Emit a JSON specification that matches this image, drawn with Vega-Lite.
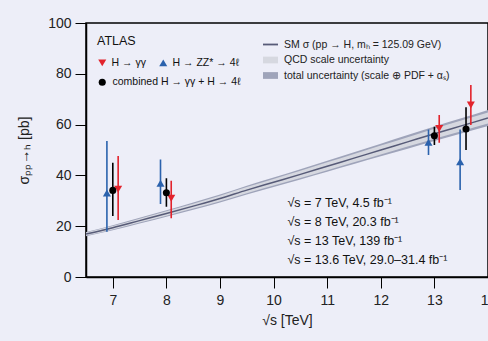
{
  "$schema": "https://vega.github.io/schema/vega-lite/v6.json",
  "autosize": "none",
  "padding": {"left": 86, "top": 23, "right": 0, "bottom": 64},
  "width": 402,
  "height": 254,
  "background": "#edeef8",
  "config": {
    "font": "Liberation Sans",
    "view": {"stroke": "#000000", "strokeWidth": 1.5, "fill": "#edeef8"}
  },
  "datasets": {
    "theory": [
      {"sqrts": 6.5, "sigma": 16.9, "sc_lo": 16.31, "sc_hi": 17.49, "tot_lo": 16.06, "tot_hi": 17.75},
      {"sqrts": 7.0, "sigma": 19.4, "sc_lo": 18.72, "sc_hi": 20.08, "tot_lo": 18.43, "tot_hi": 20.37},
      {"sqrts": 7.5, "sigma": 22.2, "sc_lo": 21.42, "sc_hi": 22.98, "tot_lo": 21.09, "tot_hi": 23.31},
      {"sqrts": 8.0, "sigma": 25.0, "sc_lo": 24.13, "sc_hi": 25.88, "tot_lo": 23.75, "tot_hi": 26.25},
      {"sqrts": 8.5, "sigma": 27.9, "sc_lo": 26.92, "sc_hi": 28.88, "tot_lo": 26.51, "tot_hi": 29.30},
      {"sqrts": 9.0, "sigma": 30.9, "sc_lo": 29.82, "sc_hi": 31.98, "tot_lo": 29.36, "tot_hi": 32.45},
      {"sqrts": 9.5, "sigma": 34.2, "sc_lo": 33.00, "sc_hi": 35.40, "tot_lo": 32.49, "tot_hi": 35.91},
      {"sqrts": 10.0, "sigma": 37.3, "sc_lo": 35.99, "sc_hi": 38.61, "tot_lo": 35.44, "tot_hi": 39.17},
      {"sqrts": 10.5, "sigma": 40.4, "sc_lo": 38.99, "sc_hi": 41.81, "tot_lo": 38.38, "tot_hi": 42.42},
      {"sqrts": 11.0, "sigma": 43.6, "sc_lo": 42.07, "sc_hi": 45.13, "tot_lo": 41.42, "tot_hi": 45.78},
      {"sqrts": 11.5, "sigma": 46.8, "sc_lo": 45.16, "sc_hi": 48.44, "tot_lo": 44.46, "tot_hi": 49.14},
      {"sqrts": 12.0, "sigma": 50.0, "sc_lo": 48.25, "sc_hi": 51.75, "tot_lo": 47.50, "tot_hi": 52.50},
      {"sqrts": 12.5, "sigma": 53.2, "sc_lo": 51.34, "sc_hi": 55.06, "tot_lo": 50.54, "tot_hi": 55.86},
      {"sqrts": 13.0, "sigma": 56.4, "sc_lo": 54.43, "sc_hi": 58.37, "tot_lo": 53.58, "tot_hi": 59.22},
      {"sqrts": 13.5, "sigma": 59.5, "sc_lo": 57.42, "sc_hi": 61.58, "tot_lo": 56.53, "tot_hi": 62.48},
      {"sqrts": 14.0, "sigma": 62.6, "sc_lo": 60.41, "sc_hi": 64.79, "tot_lo": 59.47, "tot_hi": 65.73}
    ],
    "meas": [
      {"sqrts": 6.89, "run": "√s = 7 TeV, 4.5 fb⁻¹", "channel": "H → ZZ* → 4ℓ", "sigma": 33.1, "lo": 17.8, "hi": 53.5},
      {"sqrts": 7.0, "run": "√s = 7 TeV, 4.5 fb⁻¹", "channel": "combined H → γγ + H → 4ℓ", "sigma": 34.1, "lo": 24.0, "hi": 45.0},
      {"sqrts": 7.1, "run": "√s = 7 TeV, 4.5 fb⁻¹", "channel": "H → γγ", "sigma": 34.6, "lo": 22.4, "hi": 47.6},
      {"sqrts": 7.89, "run": "√s = 8 TeV, 20.3 fb⁻¹", "channel": "H → ZZ* → 4ℓ", "sigma": 36.9, "lo": 28.7, "hi": 46.3},
      {"sqrts": 8.0, "run": "√s = 8 TeV, 20.3 fb⁻¹", "channel": "combined H → γγ + H → 4ℓ", "sigma": 33.2, "lo": 27.7, "hi": 38.9},
      {"sqrts": 8.09, "run": "√s = 8 TeV, 20.3 fb⁻¹", "channel": "H → γγ", "sigma": 31.0, "lo": 23.1, "hi": 37.9},
      {"sqrts": 12.89, "run": "√s = 13 TeV, 139 fb⁻¹", "channel": "H → ZZ* → 4ℓ", "sigma": 53.0, "lo": 48.0, "hi": 58.1},
      {"sqrts": 13.0, "run": "√s = 13 TeV, 139 fb⁻¹", "channel": "combined H → γγ + H → 4ℓ", "sigma": 55.6, "lo": 52.0, "hi": 59.2},
      {"sqrts": 13.09, "run": "√s = 13 TeV, 139 fb⁻¹", "channel": "H → γγ", "sigma": 58.5, "lo": 52.9, "hi": 63.8},
      {"sqrts": 13.48, "run": "√s = 13.6 TeV, 29.0–31.4 fb⁻¹", "channel": "H → ZZ* → 4ℓ", "sigma": 45.4, "lo": 34.3, "hi": 58.1},
      {"sqrts": 13.59, "run": "√s = 13.6 TeV, 29.0–31.4 fb⁻¹", "channel": "combined H → γγ + H → 4ℓ", "sigma": 58.3, "lo": 50.0, "hi": 66.8},
      {"sqrts": 13.68, "run": "√s = 13.6 TeV, 29.0–31.4 fb⁻¹", "channel": "H → γγ", "sigma": 67.7, "lo": 59.8, "hi": 75.6}
    ]
  },
  "encoding": {
    "x": {
      "field": "sqrts", "type": "quantitative",
      "scale": {"domain": [6.5, 14], "nice": false, "zero": false},
      "axis": {
        "title": "√s [TeV]", "values": [7, 8, 9, 10, 11, 12, 13, 14],
        "grid": false, "tickSize": 11, "tickColor": "#000000", "domainColor": "#000000", "domainWidth": 1.5,
        "labelFontSize": 14, "labelColor": "#222222", "labelPadding": 5, "labelFlush": false, "labelOverlap": false,
        "titleFontSize": 14, "titleFontWeight": "normal", "titleColor": "#222222", "titlePadding": 6
      }
    }
  },
  "layer": [
    {
      "data": {"name": "theory"},
      "mark": {"type": "area", "interpolate": "monotone", "opacity": 1},
      "encoding": {
        "y": {"field": "tot_lo", "type": "quantitative"},
        "y2": {"field": "tot_hi"},
        "color": {"datum": "total uncertainty (scale ⊕ PDF + αₛ)"}
      }
    },
    {
      "data": {"name": "theory"},
      "mark": {"type": "area", "interpolate": "monotone", "opacity": 1},
      "encoding": {
        "y": {"field": "sc_lo", "type": "quantitative"},
        "y2": {"field": "sc_hi"},
        "color": {"datum": "QCD scale uncertainty"}
      }
    },
    {
      "data": {"name": "theory"},
      "mark": {"type": "line", "interpolate": "monotone", "strokeWidth": 1.5},
      "encoding": {
        "y": {
          "field": "sigma", "type": "quantitative",
          "scale": {"domain": [0, 100], "nice": false},
          "axis": {
            "title": "σₚₚ→ₕ [pb]", "values": [0, 20, 40, 60, 80, 100],
            "grid": false, "tickSize": 11, "tickColor": "#000000", "domainColor": "#000000", "domainWidth": 1.5,
            "labelFontSize": 14, "labelColor": "#222222", "labelPadding": 4, "labelFlush": false,
            "titleFontSize": 14, "titleFontWeight": "normal", "titleColor": "#222222", "titlePadding": 16
          }
        },
        "color": {
          "datum": "SM σ (pp → H, mₕ = 125.09 GeV)",
          "scale": {
            "domain": ["SM σ (pp → H, mₕ = 125.09 GeV)", "QCD scale uncertainty", "total uncertainty (scale ⊕ PDF + αₛ)"],
            "range": ["#575b78", "#d6d8e0", "#9fa4ba"]
          },
          "legend": {
            "orient": "none", "legendX": 177, "legendY": 14, "title": null, "padding": 0,
            "direction": "vertical",
            "symbolType": "M-1,-0.45H1V0.45H-1Z", "symbolSize": 225, "symbolStrokeWidth": 0,
            "labelFontSize": 10.5, "labelColor": "#222222", "labelOffset": 6, "rowPadding": 2.5, "labelLimit": 300,
            "encode": {
              "symbols": {
                "update": {
                  "shape": {"signal": "datum.index === 0 ? 'M-1,-0.12H1V0.12H-1Z' : 'M-1,-0.45H1V0.45H-1Z'"},
                  "fill": {"scale": "color", "field": "value"},
                  "fillOpacity": {"value": 1},
                  "strokeWidth": {"value": 0}
                }
              }
            }
          }
        }
      }
    },
    {
      "data": {"name": "meas"},
      "mark": {"type": "rule", "strokeWidth": 1.6},
      "encoding": {
        "y": {"field": "lo", "type": "quantitative"},
        "y2": {"field": "hi"},
        "stroke": {
          "field": "channel", "type": "nominal",
          "scale": {"domain": ["H → γγ", "H → ZZ* → 4ℓ", "combined H → γγ + H → 4ℓ"], "range": ["#e2232c", "#2b62ad", "#000000"]},
          "legend": null
        },
        "strokeDash": {
          "field": "run", "type": "nominal",
          "scale": {
            "domain": ["√s = 7 TeV, 4.5 fb⁻¹", "√s = 8 TeV, 20.3 fb⁻¹", "√s = 13 TeV, 139 fb⁻¹", "√s = 13.6 TeV, 29.0–31.4 fb⁻¹"],
            "range": [[1, 0], [1, 0], [1, 0], [1, 0]]
          },
          "legend": {
            "orient": "none", "legendX": 189, "legendY": 174, "title": null, "padding": 0,
            "direction": "vertical",
            "symbolSize": 0, "symbolStrokeWidth": 0, "symbolOpacity": 0, "labelOffset": 0,
            "labelFontSize": 12.5, "labelColor": "#111111", "rowPadding": 6, "labelLimit": 300
          }
        }
      }
    },
    {
      "data": {"name": "meas"},
      "transform": [{"filter": "datum.channel !== 'combined H → γγ + H → 4ℓ'"}],
      "mark": {"type": "point", "filled": true, "opacity": 1, "size": 65},
      "encoding": {
        "y": {"field": "sigma", "type": "quantitative"},
        "fill": {
          "field": "channel", "type": "nominal",
          "scale": {"domain": ["H → γγ", "H → ZZ* → 4ℓ"], "range": ["#e2232c", "#2b62ad"]},
          "legend": {
            "orient": "none", "legendX": 11, "legendY": 12, "title": "ATLAS", "padding": 0,
            "direction": "horizontal", "columnPadding": 10,
            "titleFontSize": 12.5, "titleFontWeight": "normal", "titleColor": "#111111", "titlePadding": 10,
            "labelFontSize": 10.5, "labelColor": "#111111", "labelOffset": 4, "symbolSize": 65, "labelLimit": 300
          }
        },
        "shape": {
          "field": "channel", "type": "nominal",
          "scale": {"domain": ["H → γγ", "H → ZZ* → 4ℓ"], "range": ["triangle-down", "triangle-up"]},
          "legend": {
            "orient": "none", "legendX": 11, "legendY": 12, "title": "ATLAS", "padding": 0,
            "direction": "horizontal", "columnPadding": 10,
            "titleFontSize": 12.5, "titleFontWeight": "normal", "titleColor": "#111111", "titlePadding": 10,
            "labelFontSize": 10.5, "labelColor": "#111111", "labelOffset": 4, "symbolSize": 65, "labelLimit": 300
          }
        }
      }
    },
    {
      "data": {"name": "meas"},
      "transform": [{"filter": "datum.channel === 'combined H → γγ + H → 4ℓ'"}],
      "mark": {"type": "point", "filled": true, "shape": "circle", "color": "#000000", "size": 50},
      "encoding": {
        "y": {"field": "sigma", "type": "quantitative"},
        "opacity": {
          "field": "channel", "type": "ordinal",
          "scale": {"domain": ["combined H → γγ + H → 4ℓ"], "range": [1]},
          "legend": {
            "orient": "none", "legendX": 11, "legendY": 54, "title": null, "padding": 0,
            "direction": "vertical", "symbolType": "circle", "symbolFillColor": "#000000", "symbolStrokeColor": "#000000",
            "symbolStrokeWidth": 0, "symbolSize": 50,
            "labelFontSize": 10.5, "labelColor": "#111111", "labelOffset": 5, "labelLimit": 300
          }
        }
      }
    }
  ]
}
